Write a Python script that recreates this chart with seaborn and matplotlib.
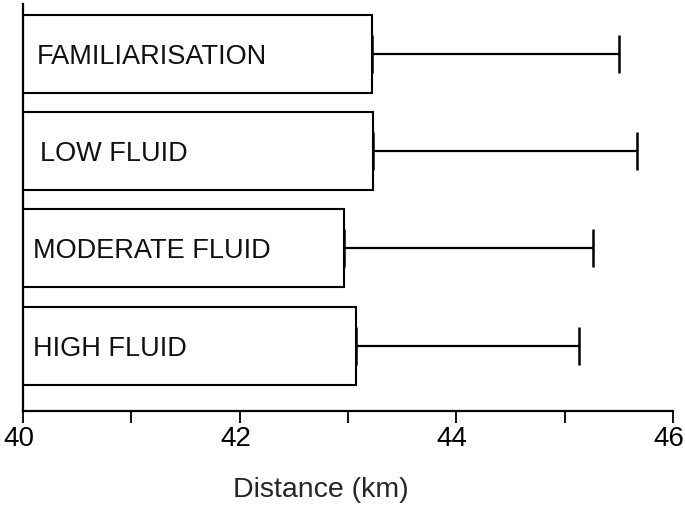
import matplotlib
matplotlib.use("Agg")
import matplotlib.pyplot as plt
import matplotlib.transforms as mtransforms
import seaborn as sns
import pandas as pd
import numpy as np

categories = ["FAMILIARISATION", "LOW FLUID", "MODERATE FLUID", "HIGH FLUID"]
means = [43.22, 43.23, 42.96, 43.07]
sds = [2.28, 2.44, 2.30, 2.06]
xticks_major = [40, 42, 44, 46]
xticks_minor = [41, 43, 45]

# label x positions (style only)
label_x = [40.13, 40.16, 40.09, 40.09]

sns.set_style("ticks")
plt.rcParams["font.family"] = ["Liberation Sans", "DejaVu Sans"]

df = pd.DataFrame({"cond": categories, "dist": means})

fig = plt.figure(figsize=(6.85, 5.07), dpi=100)
ax = fig.add_axes([23 / 685, (507 - 411) / 507, (673 - 23) / 685, (411 - 4) / 507])

sns.barplot(data=df, x="dist", y="cond", orient="h", order=categories,
            color="white", edgecolor="black", linewidth=1.5, width=0.8,
            errorbar=None, ax=ax)
for p in ax.patches:
    p.set_facecolor("white")

pos = np.arange(len(categories))
ax.errorbar(means, pos, xerr=[np.zeros(len(sds)), sds], fmt="none",
            ecolor="black", elinewidth=1.6, capsize=13.5, capthick=1.8)

for i, lab in enumerate(categories):
    ax.text(label_x[i], i + 0.03, lab, ha="left", va="center", fontsize=19.5, color="#111111")

ax.set_xlim(40, 46)
ax.set_ylim(3.67, -0.51)
ax.set_xticks(xticks_major)
ax.set_xticks(xticks_minor, minor=True)
ax.set_xticklabels([str(t) for t in xticks_major], fontsize=20)
ax.tick_params(axis="x", which="both", length=8.5, width=1.3, direction="out", pad=2, colors="black")
offset = mtransforms.ScaledTranslation(-4 / 100, 0, fig.dpi_scale_trans)
for lbl in ax.get_xticklabels():
    lbl.set_transform(lbl.get_transform() + offset)
ax.set_yticks([])
ax.set_ylabel("")
ax.set_xlabel("Distance (km)", fontsize=20.5)
ax.xaxis.set_label_coords((321 - 23) / 650, -(490 - 411) / 407, transform=ax.transAxes)
ax.xaxis.label.set_va("center")
sns.despine(ax=ax)
for s in ["left", "bottom"]:
    ax.spines[s].set_linewidth(1.6)
    ax.spines[s].set_color("black")

fig.savefig("out.png", dpi=100)
